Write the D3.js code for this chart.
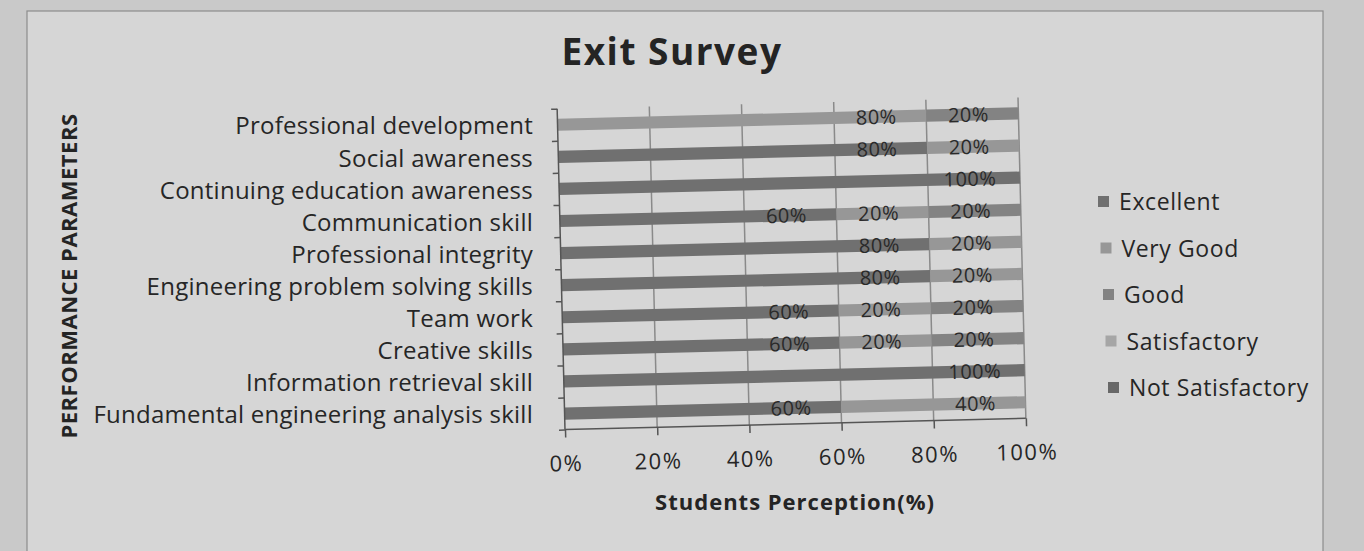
<!DOCTYPE html>
<html>
<head>
<meta charset="utf-8">
<script src="https://cdn.jsdelivr.net/npm/d3@7"></script>
<style>
  body { margin: 0; background: #c9c9c9; }
  svg { display: block; font-family: "Open Sans", Lato, sans-serif; }
  .axis path, .axis line { stroke: #555; stroke-width: 1.5; }
  .axis text { fill: #262626; font-size: 22px; letter-spacing: 1.5px; font-family: "Open Sans", sans-serif; }
</style>
</head>
<body>
<svg id="chart"></svg>
<script>
// categories, top to bottom as they appear
const categories = [
  'Professional development',
  'Social awareness',
  'Continuing education awareness',
  'Communication skill',
  'Professional integrity',
  'Engineering problem solving skills',
  'Team work',
  'Creative skills',
  'Information retrieval skill',
  'Fundamental engineering analysis skill'
];

const seriesNames = ['Excellent', 'Very Good', 'Good', 'Satisfactory', 'Not Satisfactory'];

// percent of students per rating
const excellent       = [0, 80, 100, 60, 80, 80, 60, 60, 100, 60];
const veryGood        = [80, 20, 0, 20, 20, 20, 20, 20, 0, 40];
const good            = [20, 0, 0, 20, 0, 0, 20, 20, 0, 0];
const satisfactory    = [0, 0, 0, 0, 0, 0, 0, 0, 0, 0];
const notSatisfactory = [0, 0, 0, 0, 0, 0, 0, 0, 0, 0];

const xTicks = [0, 20, 40, 60, 80, 100];

const W = 1364, H = 551;
const margin = { top: 103, left: 561 };
const width = 461, height = 321;

const table = categories.map((c, i) => ({
  category: c,
  'Excellent': excellent[i],
  'Very Good': veryGood[i],
  'Good': good[i],
  'Satisfactory': satisfactory[i],
  'Not Satisfactory': notSatisfactory[i]
}));

const color = d3.scaleOrdinal()
  .domain(seriesNames)
  .range(['#707070', '#979797', '#838383', '#a6a6a6', '#686868']);

const svg = d3.select('#chart')
  .attr('width', W)
  .attr('height', H);

// chart frame
svg.append('rect')
  .attr('x', 27).attr('y', 11)
  .attr('width', 1296).attr('height', 560)
  .attr('fill', '#d6d6d6')
  .attr('stroke', '#8c8c8c')
  .attr('stroke-width', 1.2);

svg.append('text')
  .attr('x', 672).attr('y', 65)
  .attr('text-anchor', 'middle')
  .attr('font-size', 37)
  .attr('font-weight', 'bold')
  .attr('letter-spacing', 1.5)
  .attr('fill', '#242424')
  .text('Exit Survey');

const x = d3.scaleLinear().domain([0, 100]).range([0, width]);
const y = d3.scaleBand().domain(categories).range([0, height])
  .paddingInner(0.62).paddingOuter(0.31);

// the photographed page is slightly tilted
const plot = svg.append('g')
  .attr('transform', `translate(${margin.left},${margin.top}) rotate(-1.4, ${width / 2}, ${height / 2})`);

// vertical gridlines
plot.append('g')
  .selectAll('line')
  .data(xTicks.slice(1))
  .join('line')
  .attr('x1', d => x(d)).attr('x2', d => x(d))
  .attr('y1', 0).attr('y2', height)
  .attr('stroke', '#8a8a8a')
  .attr('stroke-width', 1.5);

const stacked = d3.stack().keys(seriesNames)(table);

const layers = plot.append('g')
  .selectAll('g')
  .data(stacked)
  .join('g')
  .attr('fill', d => color(d.key));

layers.selectAll('rect')
  .data(d => d.filter(s => s[1] - s[0] > 0))
  .join('rect')
  .attr('x', d => x(d[0]))
  .attr('width', d => x(d[1]) - x(d[0]))
  .attr('y', d => y(d.data.category))
  .attr('height', y.bandwidth());

// data labels near the inside end of each segment
layers.selectAll('text')
  .data(d => d.filter(s => s[1] - s[0] > 0).map(s => ({ s, key: d.key })))
  .join('text')
  .attr('x', d => x(d.s[1]) - 50)
  .attr('y', d => y(d.s.data.category) + y.bandwidth() / 2)
  .attr('dy', '0.36em')
  .attr('text-anchor', 'middle')
  .attr('font-size', 20)
  .attr('letter-spacing', 0.5)
  .attr('fill', '#2a2a2a')
  .text(d => (d.s[1] - d.s[0]) + '%');

// axes
const yTickScale = d3.scaleLinear().domain([0, categories.length]).range([0, height]);
plot.append('g')
  .attr('class', 'axis')
  .call(d3.axisLeft(yTickScale).ticks(categories.length).tickSize(6).tickFormat(''))
  .select('.domain').attr('d', `M0,0V${height}`);

plot.append('g')
  .attr('class', 'axis')
  .attr('transform', `translate(0,${height})`)
  .call(d3.axisBottom(x).tickValues(xTicks).tickSize(8).tickPadding(18).tickFormat(d => d + '%'))
  .call(g => g.select('.domain').attr('d', `M0,0H${width}`));

// category labels
svg.append('g')
  .selectAll('text')
  .data(categories)
  .join('text')
  .attr('x', 533)
  .attr('y', d => margin.top + y(d) + y.bandwidth() / 2 + 7)
  .attr('dy', '0.35em')
  .attr('text-anchor', 'end')
  .attr('font-size', 24)
  .attr('letter-spacing', 0.25)
  .attr('fill', '#262626')
  .text(d => d);

// axis titles
svg.append('text')
  .attr('x', 795).attr('y', 510)
  .attr('text-anchor', 'middle')
  .attr('font-size', 22)
  .attr('font-weight', 'bold')
  .attr('letter-spacing', 1)
  .attr('fill', '#242424')
  .text('Students Perception(%)');

svg.append('text')
  .attr('transform', 'translate(77,276) rotate(-90)')
  .attr('text-anchor', 'middle')
  .attr('font-size', 22)
  .attr('font-weight', 'bold')
  .attr('letter-spacing', 0.5)
  .attr('fill', '#242424')
  .text('PERFORMANCE PARAMETERS');

// legend
const legend = svg.append('g')
  .selectAll('g')
  .data(seriesNames)
  .join('g')
  .attr('transform', (d, i) => `translate(${1098 + i * 2.5},${202 + i * 46.5})`);

legend.append('rect')
  .attr('x', 0).attr('y', -6)
  .attr('width', 11).attr('height', 11)
  .attr('fill', d => color(d));

legend.append('text')
  .attr('x', 21)
  .attr('dy', '0.35em')
  .attr('font-size', 23)
  .attr('letter-spacing', 0.6)
  .attr('fill', '#262626')
  .text(d => d);
</script>
</body>
</html>
